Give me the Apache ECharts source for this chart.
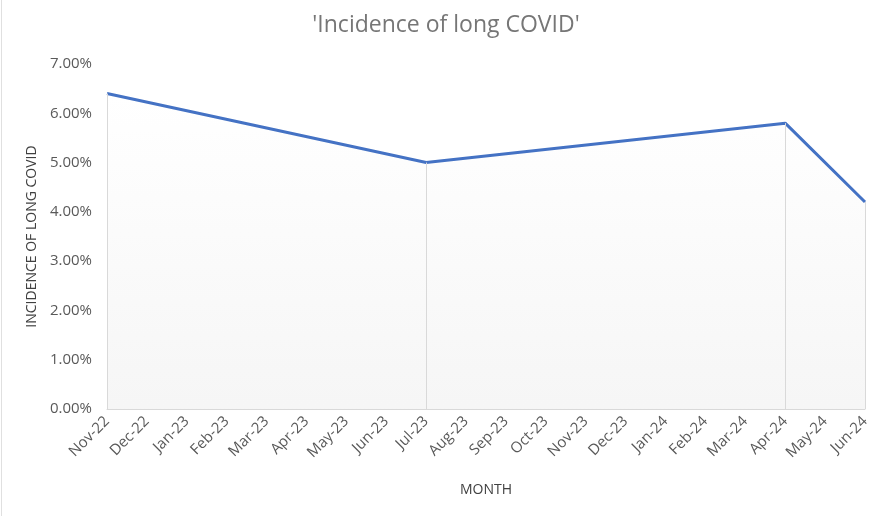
<!DOCTYPE html>
<html>
<head>
    <meta charset="UTF-8">
    <title>Incidence of long COVID</title>
    <style type="text/css">
        html, body { margin: 0; padding: 0; background: #fff; }
        #mychart { width: 892px; height: 516px; }
    </style>
</head>
<body>
<div id='mychart'></div>
<script src='https://cdn.jsdelivr.net/npm/echarts@6/dist/echarts.min.js'></script>
<script>
    // month labels along the x axis
    var months = ['Nov-22', 'Dec-22', 'Jan-23', 'Feb-23', 'Mar-23', 'Apr-23', 'May-23', 'Jun-23',
        'Jul-23', 'Aug-23', 'Sep-23', 'Oct-23', 'Nov-23', 'Dec-23', 'Jan-24', 'Feb-24',
        'Mar-24', 'Apr-24', 'May-24', 'Jun-24'];
    // the months that actually have a measurement
    var pointMonths = ['Nov-22', 'Jul-23', 'Apr-24', 'Jun-24'];
    var pointValues = [0.064, 0.050, 0.058, 0.042];

    var fontName = '"Open Sans", "Noto Sans", sans-serif';

    // one slot per month, null where no measurement
    var seriesData = months.map(function (m) {
        var k = pointMonths.indexOf(m);
        return k < 0 ? null : pointValues[k];
    });

    // drop lines from each point to the axis
    var dropLines = [];
    for (var i = 0; i < pointMonths.length; i++) {
        dropLines.push([
            {coord: [pointMonths[i], 0]},
            {coord: [pointMonths[i], pointValues[i]]}
        ]);
    }

    var myChart = echarts.init(document.getElementById('mychart'));

    var option = {
        backgroundColor: '#fff',
        animation: false,
        title: {
            text: "'Incidence of long COVID'",
            left: 'center',
            top: 9,
            textStyle: {
                fontFamily: fontName,
                fontSize: 23,
                fontWeight: 'normal',
                color: '#767676'
            }
        },
        graphic: [{
            type: 'line',
            shape: {x1: 1.5, y1: 0, x2: 1.5, y2: 516},
            style: {stroke: '#e0e0e0', lineWidth: 1}
        }],
        grid: {left: 107, right: 27, top: 64, bottom: 107},
        xAxis: {
            type: 'category',
            data: months,
            boundaryGap: false,
            name: 'MONTH',
            nameLocation: 'middle',
            nameGap: 74,
            nameTextStyle: {fontFamily: fontName, fontSize: 14, color: '#404040'},
            axisLine: {lineStyle: {color: '#d9d9d9', width: 1}},
            axisTick: {show: false},
            axisLabel: {
                rotate: 45,
                interval: 0,
                margin: 10,
                fontFamily: fontName,
                fontSize: 15,
                color: '#595959'
            },
            splitLine: {show: false}
        },
        yAxis: {
            type: 'value',
            min: 0,
            max: 0.07,
            interval: 0.01,
            name: 'INCIDENCE OF LONG COVID',
            nameLocation: 'middle',
            nameGap: 66,
            nameTextStyle: {fontFamily: fontName, fontSize: 14, color: '#404040'},
            axisLine: {show: false},
            axisTick: {show: false},
            splitLine: {show: false},
            axisLabel: {
                margin: 15,
                fontFamily: fontName,
                fontSize: 15,
                color: '#595959',
                formatter: function (v) { return (v * 100).toFixed(2) + '%'; }
            }
        },
        series: [{
            name: 'Incidence of long COVID',
            type: 'line',
            data: seriesData,
            connectNulls: true,
            showSymbol: false,
            symbol: 'none',
            lineStyle: {color: '#4472c4', width: 3},
            itemStyle: {color: '#4472c4'},
            areaStyle: {
                color: {
                    type: 'linear', x: 0, y: 0, x2: 0, y2: 1,
                    colorStops: [
                        {offset: 0, color: '#ffffff'},
                        {offset: 1, color: '#f2f2f2'}
                    ]
                }
            },
            markLine: {
                silent: true,
                symbol: ['none', 'none'],
                label: {show: false},
                lineStyle: {color: '#d9d9d9', width: 1, type: 'solid'},
                data: dropLines
            },
            z: 3
        }]
    };

    myChart.setOption(option);
</script>
</body>
</html>
